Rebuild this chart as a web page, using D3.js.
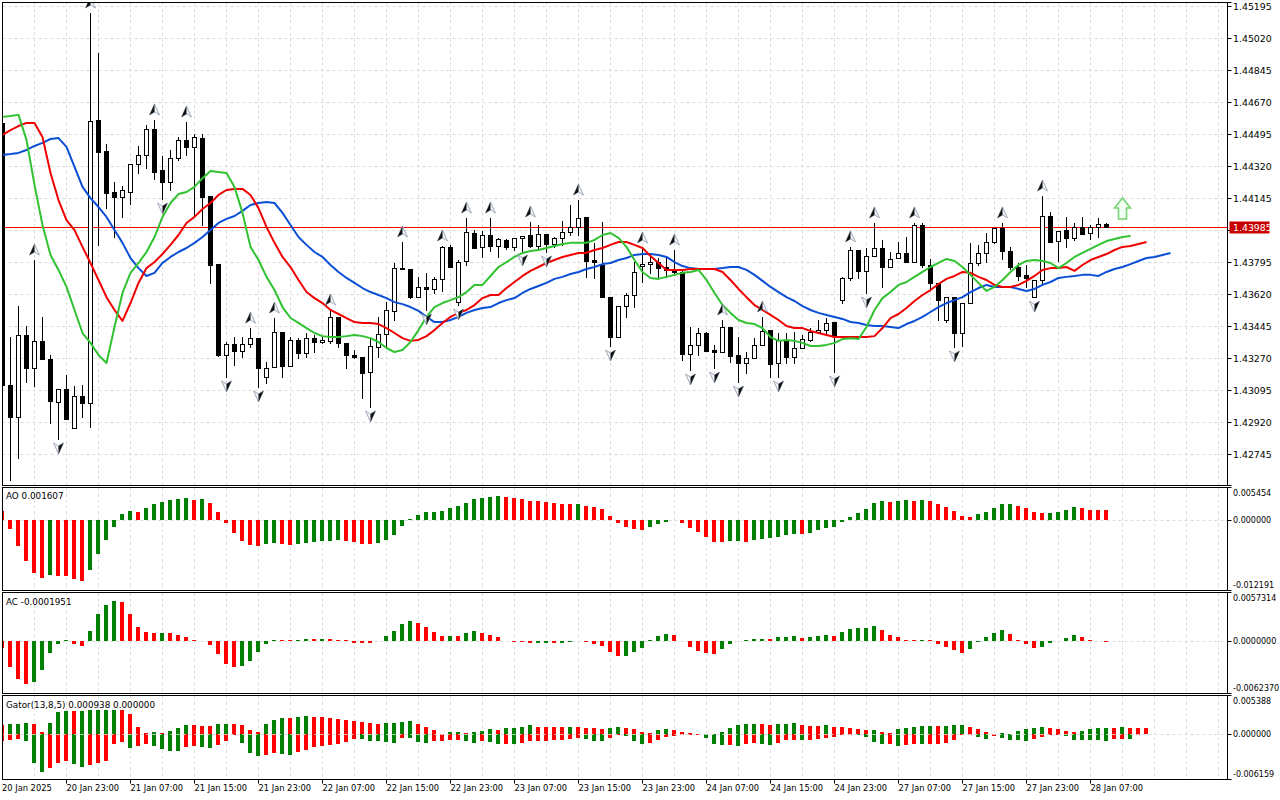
<!DOCTYPE html>
<html>
<head>
<meta charset="utf-8">
<script src="https://cdn.jsdelivr.net/npm/d3@7"></script>
<style>
  body { margin: 0; background: #fff; }
  svg { display: block; font-family: "DejaVu Sans", Tahoma, sans-serif; }
</style>
</head>
<body>
<script>
// ---- data (H1, 20-28 Jan 2025) ----
const priceTicks = [1.45195, 1.45020, 1.44845, 1.44670, 1.44495, 1.44320, 1.44145, 1.43970,
  1.43795, 1.43620, 1.43445, 1.43270, 1.43095, 1.42920, 1.42745];

const timeIdx = [0, 8, 16, 24, 32, 40, 48, 56, 64, 72, 80, 88, 96, 104, 112, 120, 128, 136];
const timeLabels = ["20 Jan 2025", "20 Jan 23:00", "21 Jan 07:00", "21 Jan 15:00", "21 Jan 23:00",
  "22 Jan 07:00", "22 Jan 15:00", "22 Jan 23:00", "23 Jan 07:00", "23 Jan 15:00", "23 Jan 23:00",
  "24 Jan 07:00", "24 Jan 15:00", "24 Jan 23:00", "27 Jan 07:00", "27 Jan 15:00", "27 Jan 23:00",
  "28 Jan 07:00"];

const open = [1.44554,1.43121,1.42946,1.43394,1.43213,1.43362,1.43263,1.43028,1.43099,1.42885,
  1.43060,1.43023,1.44570,1.44401,1.44176,1.44149,1.44176,1.44329,1.44379,1.44521,
  1.44296,1.44231,1.44362,1.44461,1.44423,1.44471,1.44154,1.43782,1.43285,1.43345,
  1.43307,1.43345,1.43377,1.43165,1.43219,1.43410,1.43224,1.43367,1.43296,1.43377,
  1.43356,1.43362,1.43493,1.43351,1.43285,1.43274,1.43192,1.43329,1.43399,1.43526,
  1.43760,1.43755,1.43601,1.43657,1.43646,1.43701,1.43876,1.43574,1.43799,1.43952,
  1.43876,1.43941,1.43881,1.43914,1.43876,1.43925,1.43941,1.43881,1.43946,1.43892,
  1.43925,1.43957,1.43985,1.44040,1.43804,1.43777,1.43601,1.43383,1.43552,1.43613,
  1.43771,1.43782,1.43793,1.43766,1.43755,1.43739,1.43290,1.43340,1.43405,1.43312,
  1.43301,1.43438,1.43285,1.43241,1.43268,1.43340,1.43421,1.43241,1.43367,1.43274,
  1.43323,1.43367,1.43410,1.43421,1.43465,1.43585,1.43706,1.43859,1.43745,1.43826,
  1.43870,1.43766,1.43815,1.43843,1.43793,1.43996,1.43777,1.43679,1.43476,1.43601,
  1.43405,1.43569,1.43788,1.43843,1.43903,1.43979,1.43854,1.43766,1.43723,1.43601,
  1.43695,1.44045,1.43908,1.43968,1.43925,1.43985,1.43952,1.43985,1.44001];

const high = [1.44570,1.43383,1.43552,1.43443,1.43804,1.43493,1.43285,1.43099,1.43176,1.43115,
  1.43121,1.45155,1.44937,1.44439,1.44231,1.44209,1.44329,1.44428,1.44543,1.44570,
  1.44373,1.44406,1.44477,1.44559,1.44493,1.44493,1.44154,1.43782,1.43356,1.43383,
  1.43383,1.43432,1.43377,1.43246,1.43487,1.43410,1.43383,1.43377,1.43405,1.43394,
  1.43383,1.43531,1.43493,1.43351,1.43312,1.43274,1.43372,1.43493,1.43574,1.43788,
  1.43903,1.43755,1.43712,1.43734,1.43712,1.43881,1.43887,1.43804,1.44034,1.43968,
  1.43963,1.44034,1.43925,1.43919,1.43925,1.43935,1.44012,1.43996,1.43946,1.43930,
  1.44018,1.44105,1.44132,1.44040,1.43898,1.44012,1.43601,1.43552,1.43624,1.43793,
  1.43870,1.43843,1.43815,1.43821,1.43859,1.43750,1.43438,1.43432,1.43410,1.43340,
  1.43476,1.43438,1.43383,1.43301,1.43377,1.43493,1.43421,1.43405,1.43405,1.43410,
  1.43394,1.43432,1.43476,1.43487,1.43465,1.43712,1.43876,1.43859,1.43870,1.44007,
  1.43914,1.43848,1.43903,1.43930,1.44007,1.44007,1.43810,1.43679,1.43601,1.43601,
  1.43569,1.43898,1.43887,1.43952,1.43979,1.44007,1.43876,1.43788,1.43777,1.43695,
  1.44154,1.44067,1.43963,1.44040,1.44007,1.44040,1.43996,1.44034,1.44007];

const low = [1.43093,1.42601,1.42721,1.43137,1.43115,1.43263,1.42913,1.42826,1.42935,1.42885,
  1.42946,1.42891,1.43887,1.44088,1.43930,1.44040,1.44110,1.44280,1.44307,1.44247,
  1.44138,1.44187,1.44351,1.44379,1.44051,1.43996,1.43679,1.43279,1.43165,1.43230,
  1.43274,1.43329,1.43110,1.43132,1.43219,1.43165,1.43224,1.43268,1.43274,1.43301,
  1.43351,1.43351,1.43329,1.43213,1.43268,1.43049,1.43001,1.43274,1.43329,1.43476,
  1.43755,1.43596,1.43601,1.43531,1.43624,1.43635,1.43766,1.43558,1.43777,1.43870,
  1.43821,1.43854,1.43821,1.43865,1.43859,1.43854,1.43876,1.43865,1.43848,1.43876,
  1.43887,1.43941,1.43941,1.43712,1.43706,1.43601,1.43334,1.43383,1.43493,1.43547,
  1.43684,1.43734,1.43706,1.43712,1.43723,1.43257,1.43203,1.43285,1.43307,1.43213,
  1.43301,1.43246,1.43137,1.43187,1.43268,1.43340,1.43165,1.43165,1.43241,1.43241,
  1.43323,1.43362,1.43405,1.43405,1.43192,1.43569,1.43695,1.43706,1.43624,1.43826,
  1.43657,1.43766,1.43815,1.43793,1.43793,1.43766,1.43640,1.43476,1.43465,1.43329,
  1.43334,1.43569,1.43777,1.43793,1.43898,1.43810,1.43755,1.43695,1.43657,1.43601,
  1.43668,1.43903,1.43799,1.43876,1.43914,1.43946,1.43919,1.43930,1.43985];

const close = [1.43121,1.42946,1.43394,1.43213,1.43362,1.43263,1.43034,1.43099,1.42935,1.43060,
  1.43023,1.44565,1.44395,1.44171,1.44149,1.44187,1.44329,1.44379,1.44521,1.44285,
  1.44231,1.44362,1.44461,1.44423,1.44477,1.44149,1.43777,1.43285,1.43345,1.43307,
  1.43345,1.43377,1.43213,1.43213,1.43410,1.43224,1.43367,1.43296,1.43377,1.43356,
  1.43367,1.43493,1.43351,1.43285,1.43274,1.43187,1.43334,1.43399,1.43531,1.43760,
  1.43755,1.43601,1.43657,1.43646,1.43701,1.43876,1.43766,1.43793,1.43957,1.43870,
  1.43941,1.43881,1.43919,1.43876,1.43925,1.43935,1.43881,1.43946,1.43892,1.43925,
  1.43957,1.43985,1.44034,1.43799,1.43793,1.43601,1.43383,1.43552,1.43613,1.43739,
  1.43782,1.43793,1.43760,1.43750,1.43739,1.43290,1.43340,1.43405,1.43307,1.43301,
  1.43438,1.43279,1.43241,1.43268,1.43340,1.43416,1.43235,1.43367,1.43274,1.43323,
  1.43372,1.43410,1.43421,1.43460,1.43394,1.43706,1.43859,1.43745,1.43826,1.43870,
  1.43766,1.43810,1.43843,1.43793,1.43996,1.43777,1.43679,1.43585,1.43601,1.43405,
  1.43569,1.43788,1.43843,1.43903,1.43979,1.43854,1.43766,1.43717,1.43706,1.43695,
  1.44045,1.43903,1.43963,1.43925,1.43985,1.43946,1.43985,1.44001,1.43985];

// Alligator (already shifted forward: jaw 8, teeth 5, lips 3)
const jaw = [1.44379,1.44384,1.44390,1.44406,1.44428,1.44445,1.44466,1.44471,1.44423,1.44313,
  1.44204,1.44143,1.44094,1.44040,1.43968,1.43898,1.43815,1.43760,1.43717,1.43734,
  1.43788,1.43821,1.43848,1.43870,1.43898,1.43930,1.43968,1.44007,1.44029,1.44045,
  1.44073,1.44105,1.44116,1.44121,1.44116,1.44062,1.43996,1.43930,1.43887,1.43848,
  1.43821,1.43777,1.43739,1.43706,1.43679,1.43651,1.43629,1.43613,1.43596,1.43574,
  1.43563,1.43547,1.43526,1.43493,1.43465,1.43465,1.43476,1.43493,1.43515,1.43531,
  1.43542,1.43547,1.43569,1.43585,1.43596,1.43624,1.43646,1.43662,1.43679,1.43701,
  1.43712,1.43728,1.43739,1.43755,1.43766,1.43782,1.43788,1.43804,1.43815,1.43832,
  1.43837,1.43837,1.43832,1.43821,1.43793,1.43771,1.43760,1.43755,1.43755,1.43755,
  1.43760,1.43766,1.43766,1.43750,1.43723,1.43690,1.43657,1.43629,1.43601,1.43580,
  1.43552,1.43531,1.43515,1.43504,1.43493,1.43482,1.43465,1.43460,1.43449,1.43443,
  1.43443,1.43438,1.43432,1.43454,1.43471,1.43493,1.43520,1.43547,1.43569,1.43585,
  1.43601,1.43629,1.43651,1.43668,1.43657,1.43657,1.43657,1.43646,1.43635,1.43646,
  1.43668,1.43684,1.43706,1.43712,1.43717,1.43723,1.43723,1.43717,1.43739,1.43755,
  1.43766,1.43782,1.43799,1.43815,1.43821,1.43832,1.43843];

const teeth = [1.44488,1.44515,1.44537,1.44554,1.44554,1.44477,1.44280,1.44132,1.44023,1.43968,
  1.43876,1.43788,1.43695,1.43601,1.43531,1.43471,1.43569,1.43679,1.43760,1.43793,
  1.43837,1.43887,1.43941,1.44007,1.44040,1.44083,1.44116,1.44160,1.44187,1.44193,
  1.44193,1.44160,1.44088,1.43985,1.43898,1.43821,1.43766,1.43695,1.43629,1.43596,
  1.43569,1.43531,1.43509,1.43487,1.43465,1.43460,1.43460,1.43454,1.43432,1.43405,
  1.43377,1.43362,1.43367,1.43388,1.43421,1.43460,1.43493,1.43515,1.43531,1.43558,
  1.43596,1.43613,1.43613,1.43651,1.43684,1.43717,1.43745,1.43766,1.43788,1.43804,
  1.43821,1.43832,1.43843,1.43843,1.43859,1.43870,1.43887,1.43903,1.43903,1.43887,
  1.43870,1.43826,1.43788,1.43750,1.43750,1.43750,1.43755,1.43755,1.43755,1.43755,
  1.43739,1.43695,1.43646,1.43601,1.43558,1.43531,1.43504,1.43476,1.43443,1.43432,
  1.43432,1.43416,1.43405,1.43394,1.43383,1.43383,1.43383,1.43383,1.43383,1.43388,
  1.43432,1.43487,1.43509,1.43542,1.43580,1.43613,1.43640,1.43673,1.43701,1.43717,
  1.43739,1.43734,1.43712,1.43695,1.43668,1.43657,1.43657,1.43668,1.43690,1.43717,
  1.43750,1.43760,1.43760,1.43766,1.43745,1.43777,1.43804,1.43821,1.43837,1.43859,
  1.43876,1.43881,1.43892,1.43903];

const lips = [1.44587,1.44592,1.44598,1.44461,1.44215,1.43996,1.43832,1.43750,1.43657,1.43531,
  1.43405,1.43351,1.43285,1.43241,1.43438,1.43624,1.43734,1.43788,1.43848,1.43930,
  1.44040,1.44116,1.44165,1.44176,1.44204,1.44252,1.44291,1.44285,1.44280,1.44204,
  1.44062,1.43876,1.43804,1.43712,1.43640,1.43547,1.43487,1.43460,1.43432,1.43405,
  1.43388,1.43383,1.43383,1.43388,1.43394,1.43388,1.43377,1.43356,1.43323,1.43301,
  1.43312,1.43356,1.43421,1.43493,1.43547,1.43569,1.43585,1.43601,1.43629,1.43668,
  1.43668,1.43717,1.43766,1.43793,1.43821,1.43843,1.43854,1.43859,1.43870,1.43881,
  1.43892,1.43898,1.43898,1.43898,1.43914,1.43941,1.43952,1.43925,1.43876,1.43804,
  1.43739,1.43706,1.43701,1.43712,1.43723,1.43734,1.43739,1.43750,1.43695,1.43624,
  1.43558,1.43515,1.43476,1.43460,1.43454,1.43432,1.43383,1.43362,1.43367,1.43362,
  1.43351,1.43334,1.43334,1.43340,1.43351,1.43372,1.43377,1.43372,1.43438,1.43531,
  1.43596,1.43629,1.43668,1.43684,1.43712,1.43739,1.43766,1.43788,1.43810,1.43799,
  1.43766,1.43723,1.43679,1.43635,1.43657,1.43695,1.43739,1.43777,1.43799,1.43804,
  1.43799,1.43788,1.43760,1.43788,1.43821,1.43843,1.43865,1.43887,1.43908,1.43919,
  1.43930,1.43935];

const fracUp = [4, 11, 19, 23, 31, 34, 41, 50, 55, 58, 61, 66, 72, 80, 84, 90, 95, 106, 109, 114, 125, 130];
const fracDown = [7, 20, 28, 32, 46, 53, 57, 65, 68, 76, 86, 89, 92, 97, 104, 108, 119, 129];

const lastPrice = 1.43985;
const signalBar = 140;
const signalPrice = 1.44083;

const ao = [0.00144,-0.00168,-0.00455,-0.00714,-0.00922,-0.01009,-0.00964,-0.00969,-0.00981,-0.01026,
  -0.01060,-0.00870,-0.00593,-0.00358,-0.00126,0.00092,0.00144,0.00138,0.00195,0.00265,
  0.00299,0.00334,0.00351,0.00368,0.00334,0.00351,0.00282,0.00126,-0.00057,-0.00230,
  -0.00368,-0.00438,-0.00455,-0.00420,-0.00403,-0.00420,-0.00438,-0.00420,-0.00398,-0.00386,
  -0.00377,-0.00368,-0.00351,-0.00368,-0.00386,-0.00415,-0.00420,-0.00403,-0.00351,-0.00265,
  -0.00109,0.00005,0.00074,0.00126,0.00138,0.00149,0.00195,0.00237,0.00282,0.00351,
  0.00368,0.00386,0.00403,0.00386,0.00368,0.00351,0.00329,0.00317,0.00299,0.00282,
  0.00277,0.00260,0.00265,0.00230,0.00213,0.00178,0.00057,-0.00057,-0.00126,-0.00161,
  -0.00185,-0.00126,-0.00074,-0.00040,-0.00009,-0.00057,-0.00144,-0.00213,-0.00299,-0.00381,
  -0.00391,-0.00374,-0.00368,-0.00386,-0.00351,-0.00334,-0.00317,-0.00299,-0.00265,-0.00247,
  -0.00253,-0.00230,-0.00178,-0.00144,-0.00126,-0.00040,0.00040,0.00109,0.00178,0.00282,
  0.00317,0.00311,0.00320,0.00334,0.00322,0.00334,0.00317,0.00265,0.00213,0.00144,
  0.00057,0.00040,0.00092,0.00126,0.00195,0.00260,0.00265,0.00230,0.00195,0.00126,
  0.00109,0.00121,0.00126,0.00161,0.00213,0.00200,0.00170,0.00165,0.001607];

const ac = [-0.00083,-0.00312,-0.00462,-0.00513,-0.00489,-0.00347,-0.00146,-0.00039,0.00004,-0.00039,
  -0.00063,0.00110,0.00312,0.00430,0.00466,0.00462,0.00312,0.00158,0.00098,0.00087,
  0.00089,0.00085,0.00063,0.00039,0.00004,0.00000,-0.00051,-0.00158,-0.00276,-0.00312,
  -0.00308,-0.00241,-0.00134,-0.00039,0.00012,0.00006,0.00004,0.00007,0.00024,0.00021,
  0.00025,0.00024,0.00012,0.00002,-0.00024,-0.00027,-0.00028,-0.00004,0.00051,0.00110,
  0.00193,0.00229,0.00205,0.00158,0.00098,0.00051,0.00053,0.00052,0.00087,0.00110,
  0.00087,0.00063,0.00039,-0.00004,-0.00015,-0.00018,-0.00027,-0.00026,-0.00024,-0.00027,
  -0.00024,-0.00015,-0.00008,-0.00015,-0.00039,-0.00063,-0.00134,-0.00181,-0.00178,-0.00134,
  -0.00087,0.00006,0.00051,0.00075,0.00071,-0.00002,-0.00075,-0.00122,-0.00146,-0.00158,
  -0.00098,-0.00039,-0.00004,0.00002,0.00015,0.00024,0.00021,0.00039,0.00041,0.00051,
  0.00027,0.00044,0.00051,0.00063,0.00059,0.00098,0.00134,0.00146,0.00148,0.00169,
  0.00122,0.00063,0.00039,0.00012,0.00004,0.00012,0.00004,-0.00039,-0.00075,-0.00110,
  -0.00146,-0.00098,-0.00015,0.00039,0.00087,0.00122,0.00075,0.00012,-0.00039,-0.00087,
  -0.00075,-0.00027,-0.00004,0.00027,0.00063,0.00039,0.00004,0.00001,-0.0001951];

const gatorUp = [0.00124,0.00138,0.00151,0.00154,0.00138,0.00028,0.00165,0.00316,0.00330,0.00327,
  0.00330,0.00333,0.00336,0.00338,0.00341,0.00337,0.00289,0.00110,0.00014,0.00028,
  0.00025,0.00041,0.00083,0.00127,0.00124,0.00122,0.00121,0.00138,0.00151,0.00150,
  0.00124,0.00055,0.00028,0.00138,0.00206,0.00234,0.00232,0.00235,0.00261,0.00248,
  0.00246,0.00234,0.00220,0.00206,0.00193,0.00179,0.00165,0.00151,0.00153,0.00154,
  0.00179,0.00182,0.00151,0.00110,0.00055,0.00004,0.00028,0.00030,0.00014,0.00028,
  0.00041,0.00069,0.00066,0.00083,0.00096,0.00110,0.00124,0.00110,0.00109,0.00107,
  0.00106,0.00109,0.00107,0.00096,0.00083,0.00081,0.00096,0.00110,0.00096,0.00069,
  0.00028,0.00014,0.00055,0.00069,0.00055,0.00028,0.00014,0.00004,0.00000,0.00000,
  0.00028,0.00083,0.00124,0.00138,0.00151,0.00138,0.00135,0.00140,0.00151,0.00154,
  0.00124,0.00122,0.00114,0.00124,0.00110,0.00109,0.00096,0.00069,0.00055,0.00058,
  0.00028,0.00014,0.00069,0.00083,0.00110,0.00111,0.00113,0.00111,0.00113,0.00124,
  0.00125,0.00110,0.00069,0.00028,0.00003,0.00014,0.00007,0.00041,0.00069,0.00096,
  0.00098,0.00083,0.00069,0.00041,0.00028,0.00041,0.00069,0.00083,0.00096,0.00095,
  0.00098,0.00096,0.00095,0.000938];

const gatorDown = [-0.00092,-0.00078,-0.00065,-0.00092,-0.00395,-0.00518,-0.00463,-0.00395,-0.00367,-0.00408,
  -0.00450,-0.00422,-0.00395,-0.00367,-0.00133,-0.00106,-0.00188,-0.00161,-0.00133,-0.00161,
  -0.00202,-0.00230,-0.00232,-0.00175,-0.00161,-0.00175,-0.00188,-0.00147,-0.00092,-0.00010,
  -0.00120,-0.00257,-0.00298,-0.00285,-0.00257,-0.00271,-0.00285,-0.00243,-0.00216,-0.00175,
  -0.00161,-0.00147,-0.00133,-0.00106,-0.00065,-0.00067,-0.00092,-0.00094,-0.00106,-0.00120,
  -0.00048,-0.00051,-0.00106,-0.00120,-0.00092,-0.00091,-0.00078,-0.00076,-0.00092,-0.00120,
  -0.00092,-0.00106,-0.00133,-0.00131,-0.00135,-0.00120,-0.00092,-0.00089,-0.00087,-0.00078,
  -0.00076,-0.00065,-0.00051,-0.00065,-0.00092,-0.00094,-0.00051,-0.00014,-0.00023,-0.00092,
  -0.00133,-0.00120,-0.00078,-0.00037,-0.00023,-0.00010,-0.00004,-0.00001,-0.00051,-0.00133,
  -0.00147,-0.00144,-0.00161,-0.00133,-0.00120,-0.00133,-0.00147,-0.00120,-0.00078,-0.00076,
  -0.00080,-0.00072,-0.00063,-0.00051,-0.00037,-0.00010,-0.00004,-0.00010,-0.00037,-0.00106,
  -0.00133,-0.00131,-0.00161,-0.00147,-0.00133,-0.00135,-0.00132,-0.00131,-0.00120,-0.00078,
  -0.00010,-0.00004,-0.00037,-0.00065,-0.00023,-0.00051,-0.00078,-0.00080,-0.00092,-0.00065,
  -0.00037,-0.00004,-0.00003,-0.00023,-0.00078,-0.00080,-0.00081,-0.00083,-0.00084,-0.00065,
  -0.00062,-0.00065,-0.00004,0];

const aoRange = [-0.012191, 0.005454];
const acRange = [-0.0062370, 0.0057314];
const gatorRange = [-0.006159, 0.005388];

// ---- layout ----
const W = 1280, H = 800;
const left = 2.5, right = 1227.5;
const panels = {
  main: { top: 2.5, bottom: 485.5 },
  ao: { top: 487.5, bottom: 590.5 },
  ac: { top: 592.5, bottom: 693.5 },
  gator: { top: 695.5, bottom: 779.5 }
};
const green = '#008000', red = '#ff0000';
const gridColor = '#dcdcdc';

const locale = d3.formatLocale({ decimal: '.', thousands: ',', grouping: [3], currency: ['', ''], minus: '-' });
const f5 = locale.format('.5f'), f6 = locale.format('.6f'), f7 = locale.format('.7f');

const x = d3.scaleLinear().domain([0, 1]).range([2.5, 10.5]);
const y = d3.scaleLinear().domain([1.42745, 1.45195]).range([453.7, 5.7]);
const yAO = d3.scaleLinear().domain(aoRange).range([590, 488]);
const yAC = d3.scaleLinear().domain(acRange).range([693, 592.5]);
const yG = d3.scaleLinear().domain(gatorRange).range([779, 695.5]);

const svg = d3.select('body').append('svg').attr('width', W).attr('height', H);
const defs = svg.append('defs');

function panel(name) {
  const p = panels[name];
  defs.append('clipPath').attr('id', 'clip-' + name)
    .append('rect').attr('x', left).attr('y', p.top).attr('width', right - left).attr('height', p.bottom - p.top);
  const g = svg.append('g').attr('clip-path', 'url(#clip-' + name + ')');
  // vertical grid every 4 bars
  g.append('g').selectAll('line')
    .data(d3.range(4, 156, 4))
    .join('line')
    .attr('x1', d => x(d)).attr('x2', d => x(d))
    .attr('y1', p.top).attr('y2', p.bottom)
    .attr('stroke', gridColor).attr('stroke-dasharray', '3,3');
  return g;
}

const gMain = panel('main');
const gAO = panel('ao');
const gAC = panel('ac');
const gG = panel('gator');

// horizontal price grid
gMain.append('g').selectAll('line')
  .data(priceTicks)
  .join('line')
  .attr('x1', left).attr('x2', right)
  .attr('y1', d => Math.round(y(d)) + 0.5).attr('y2', d => Math.round(y(d)) + 0.5)
  .attr('stroke', gridColor).attr('stroke-dasharray', '3,3');

// current price line
const yLast = Math.round(y(lastPrice)) + 0.5;
gMain.append('line')
  .attr('x1', left).attr('x2', right).attr('y1', yLast).attr('y2', yLast)
  .attr('stroke', '#ff0000').attr('stroke-width', 1);

// candles
const idx = d3.range(open.length);
const candles = gMain.append('g').selectAll('g').data(idx).join('g');
candles.append('line')
  .attr('x1', i => x(i)).attr('x2', i => x(i))
  .attr('y1', i => Math.round(y(high[i]))).attr('y2', i => Math.round(y(low[i])) + 1)
  .attr('stroke', '#000');
candles.append('rect')
  .attr('x', i => x(i) - 2).attr('width', 4)
  .attr('y', i => Math.round(y(Math.max(open[i], close[i]))) + 0.5)
  .attr('height', i => Math.max(0, Math.round(y(Math.min(open[i], close[i]))) - Math.round(y(Math.max(open[i], close[i])))))
  .attr('fill', i => close[i] >= open[i] ? '#fff' : '#000')
  .attr('stroke', '#000');

// alligator
const line = d3.line().x((d, i) => x(i)).y(d => y(d));
[[jaw, '#0a4fd6'], [teeth, '#f00000'], [lips, '#30c230']].forEach(([s, c]) => {
  gMain.append('path').datum(s).attr('d', line)
    .attr('fill', 'none').attr('stroke', c).attr('stroke-width', 2)
    .attr('stroke-linejoin', 'round');
});

// fractals
const upShape = 'M0,-6 L5,5 L0,2 L-5,5 Z', upHalf = 'M0,-6 L0,2 L-5,5 Z';
const dnShape = 'M0,6 L5,-5 L0,-2 L-5,-5 Z', dnHalf = 'M0,6 L0,-2 L5,-5 Z';
const fu = gMain.append('g').selectAll('g').data(fracUp).join('g')
  .attr('transform', i => `translate(${x(i)},${y(high[i]) - 10})`);
fu.append('path').attr('d', upShape).attr('fill', '#eef1f6').attr('stroke', '#8d9bb0').attr('stroke-width', 0.8);
fu.append('path').attr('d', upHalf).attr('fill', '#111');
const fd = gMain.append('g').selectAll('g').data(fracDown).join('g')
  .attr('transform', i => `translate(${x(i)},${y(low[i]) + 9})`);
fd.append('path').attr('d', dnShape).attr('fill', '#eef1f6').attr('stroke', '#8d9bb0').attr('stroke-width', 0.8);
fd.append('path').attr('d', dnHalf).attr('fill', '#111');

// buy signal arrow
gMain.append('path')
  .attr('transform', `translate(${x(signalBar)},${y(signalPrice)})`)
  .attr('d', 'M0,-11 L8,-1 L4,-1 L4,10 L-4,10 L-4,-1 L-8,-1 Z')
  .attr('fill', '#f4fff4').attr('stroke', '#74d474').attr('stroke-width', 1.6)
  .attr('stroke-linejoin', 'miter');

// histograms
function hist(g, data, scale, colorFn) {
  const z = Math.round(scale(0));
  g.append('g').selectAll('rect').data(data).join('rect')
    .attr('x', (d, i) => x(i) - 2.5).attr('width', 4)
    .attr('y', d => Math.min(Math.round(scale(d)), z))
    .attr('height', d => Math.abs(Math.round(scale(d)) - z))
    .attr('fill', colorFn);
}
function zeroLine(g, scale) {
  const z = Math.round(scale(0)) + 0.5;
  g.append('line').attr('x1', left).attr('x2', right).attr('y1', z).attr('y2', z)
    .attr('stroke', gridColor).attr('stroke-dasharray', '3,3');
}
const rising = arr => (d, i) => (i > 0 && d > arr[i - 1]) ? green : red;

zeroLine(gAO, yAO);
hist(gAO, ao, yAO, rising(ao));
zeroLine(gAC, yAC);
hist(gAC, ac, yAC, rising(ac));
hist(gG, gatorUp, yG, rising(gatorUp));
hist(gG, gatorDown, yG, (d, i) => (i > 0 && Math.abs(d) > Math.abs(gatorDown[i - 1])) ? green : red);
zeroLine(gG, yG);

// panel frames
Object.values(panels).forEach(p => {
  svg.append('rect').attr('x', left).attr('y', p.top).attr('width', right - left).attr('height', p.bottom - p.top)
    .attr('fill', 'none').attr('stroke', '#000');
  [p.top, p.bottom].forEach(v => svg.append('line').attr('x1', right).attr('x2', right + 4)
    .attr('y1', v).attr('y2', v).attr('stroke', '#000'));
});

// price axis (the tick hidden under the current-price tag is not written)
const axisG = svg.append('g');
priceTicks.forEach(t => {
  const yy = Math.round(y(t)) + 0.5;
  axisG.append('line').attr('x1', right).attr('x2', right + 4).attr('y1', yy).attr('y2', yy).attr('stroke', '#000');
  if (Math.abs(yy - yLast) > 10) {
    axisG.append('text').attr('x', 1233).attr('y', yy + 3.5).attr('font-size', 9.4).attr('fill', '#000').text(f5(t));
  }
});
axisG.append('rect').attr('x', 1229.5).attr('y', yLast - 6).attr('width', 40).attr('height', 12).attr('fill', '#c80000');
axisG.append('text').attr('x', 1233).attr('y', yLast + 3.5).attr('font-size', 9.4).attr('fill', '#fff').text(f5(lastPrice));

// indicator axes
function indAxis(p, scale, range, fmt) {
  const g = svg.append('g').attr('font-size', 8).attr('fill', '#000');
  g.append('text').attr('x', 1233).attr('y', p.top + 8.5).text(fmt(range[1]));
  g.append('text').attr('x', 1233).attr('y', scale(0) + 3).text(fmt(0));
  g.append('text').attr('x', 1233).attr('y', p.bottom - 2.5).text(fmt(range[0]));
  const z = Math.round(scale(0)) + 0.5;
  g.append('line').attr('x1', right).attr('x2', right + 4).attr('y1', z).attr('y2', z).attr('stroke', '#000');
}
indAxis(panels.ao, yAO, aoRange, f6);
indAxis(panels.ac, yAC, acRange, f7);
indAxis(panels.gator, yG, gatorRange, f6);

// indicator titles
const last = a => a[a.length - 1];
const titles = svg.append('g').attr('font-size', 8.8).attr('fill', '#000');
titles.append('text').attr('x', 6).attr('y', 499).text('AO ' + f6(last(ao)));
titles.append('text').attr('x', 6).attr('y', 604.5).text('AC ' + f7(last(ac)));
titles.append('text').attr('x', 6).attr('y', 708).text('Gator(13,8,5) ' + f6(last(gatorUp)) + ' ' + f6(Math.abs(last(gatorDown))));

// time axis
const tg = svg.append('g').attr('font-size', 8.3).attr('fill', '#000');
timeIdx.forEach((t, k) => {
  const xx = x(t);
  if (k > 0) {
    tg.append('line').attr('x1', xx).attr('x2', xx).attr('y1', panels.gator.bottom).attr('y2', panels.gator.bottom + 4)
      .attr('stroke', '#000');
  }
  tg.append('text').attr('x', k > 0 ? xx : 2).attr('y', 791).text(timeLabels[k]);
});
</script>
</body>
</html>
